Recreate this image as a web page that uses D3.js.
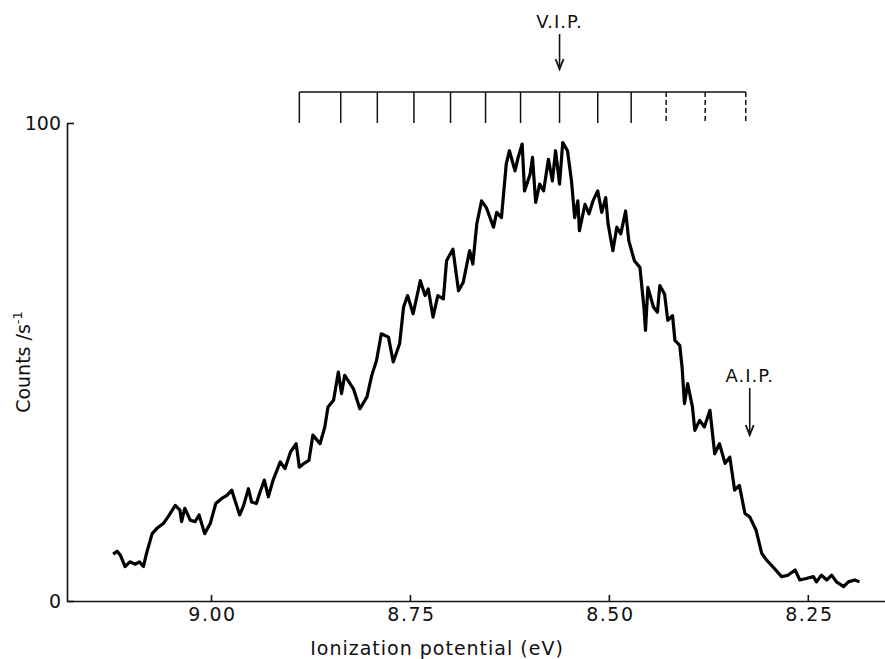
<!DOCTYPE html>
<html>
<head>
<meta charset="utf-8">
<script src="https://cdn.jsdelivr.net/npm/d3@7"></script>
<style>
  body { margin: 0; background: #fff; }
  svg { display: block; }
  text { font-family: "DejaVu Sans", sans-serif; fill: #111; }
</style>
</head>
<body>
<script>
// photoelectron band
const energy = [
  9.123, 9.118, 9.114, 9.108, 9.102, 9.095, 9.090, 9.085, 9.081, 9.074,
  9.068, 9.060, 9.054, 9.045, 9.039, 9.037, 9.033, 9.026, 9.020, 9.015,
  9.008, 9.001, 8.994, 8.987, 8.980, 8.974, 8.970, 8.964, 8.959, 8.953,
  8.949, 8.943, 8.939, 8.933, 8.928, 8.922, 8.913, 8.907, 8.900, 8.893,
  8.889, 8.883, 8.877, 8.872, 8.863, 8.857, 8.853, 8.846, 8.840, 8.836,
  8.832, 8.821, 8.813, 8.804, 8.798, 8.792, 8.786, 8.777, 8.771, 8.763,
  8.758, 8.753, 8.746, 8.737, 8.731, 8.727, 8.721, 8.715, 8.708, 8.704,
  8.696, 8.689, 8.683, 8.675, 8.671, 8.666, 8.660, 8.654, 8.645, 8.641,
  8.635, 8.632, 8.629, 8.625, 8.618, 8.614, 8.609, 8.606, 8.599, 8.596,
  8.592, 8.587, 8.582, 8.576, 8.571, 8.567, 8.562, 8.558, 8.552, 8.547,
  8.543, 8.539, 8.537, 8.530, 8.525, 8.520, 8.514, 8.509, 8.504, 8.501,
  8.495, 8.490, 8.485, 8.479, 8.475, 8.468, 8.461, 8.456, 8.454, 8.451,
  8.444, 8.439, 8.436, 8.430, 8.426, 8.420, 8.417, 8.411, 8.408, 8.405,
  8.401, 8.395, 8.392, 8.386, 8.380, 8.373, 8.367, 8.361, 8.354, 8.348,
  8.342, 8.336, 8.329, 8.323, 8.315, 8.308, 8.302, 8.292, 8.283, 8.275,
  8.266, 8.260, 8.252, 8.243, 8.239, 8.233, 8.226, 8.220, 8.214, 8.205,
  8.199, 8.191, 8.185
];
const counts = [
  9.8, 10.4, 9.6, 7.2, 8.2, 7.7, 8.2, 7.2, 10.0, 14.1,
  15.2, 16.2, 17.6, 20.0, 19.0, 16.6, 19.4, 16.9, 16.6, 18.0,
  14.1, 16.2, 20.4, 21.4, 22.1, 23.2, 21.1, 18.0, 20.0, 23.5,
  20.7, 20.4, 22.5, 25.3, 21.8, 25.3, 29.1, 27.7, 31.2, 32.9,
  28.0, 28.8, 29.4, 34.7, 32.9, 36.4, 40.6, 42.0, 47.9, 43.4,
  47.2, 44.4, 40.2, 42.7, 47.2, 50.3, 55.9, 55.2, 50.0, 53.8,
  61.5, 63.9, 60.1, 67.0, 63.9, 65.3, 59.4, 63.9, 63.2, 71.2,
  73.6, 64.9, 66.7, 73.3, 70.5, 78.9, 83.7, 82.3, 78.2, 81.3,
  80.2, 85.8, 91.4, 94.2, 90.0, 92.8, 95.6, 85.8, 89.3, 92.8,
  83.4, 87.2, 85.8, 92.4, 87.9, 94.2, 87.2, 95.9, 94.2, 87.9,
  80.2, 83.7, 77.5, 83.0, 81.0, 83.7, 85.8, 81.3, 84.4, 78.9,
  73.3, 78.2, 76.8, 81.6, 75.4, 71.2, 69.8, 61.5, 56.6, 65.6,
  61.5, 60.4, 66.0, 64.2, 58.7, 59.7, 54.5, 53.5, 48.9, 41.3,
  45.5, 40.6, 35.7, 37.8, 36.4, 39.9, 30.8, 32.9, 28.8, 30.1,
  23.2, 24.2, 18.3, 17.6, 14.8, 10.0, 8.6, 6.8, 5.1, 5.4,
  6.5, 4.4, 4.7, 5.1, 4.0, 5.4, 4.4, 5.4, 4.0, 3.0,
  4.0, 4.4, 4.0
];

// vibrational progression comb (eV), last three drawn dashed
const combEnergies = [8.889, 8.837, 8.791, 8.745, 8.699, 8.655, 8.611,
  8.562, 8.514, 8.472, 8.428, 8.379, 8.328];
const solidCombCount = 10;

const xTickValues = [9.0, 8.75, 8.5, 8.25];
const yTickValues = [0, 100];

const vipEnergy = 8.562;
const aipEnergy = 8.323;

const width = 885;
const height = 659;
const plotLeft = 67;
const plotBottom = 601;
const plotTop = 123;

const x = d3.scaleLinear().domain([9.181, 8.153]).range([plotLeft, width]);
const y = d3.scaleLinear().domain([0, 100]).range([plotBottom, plotTop]);

const svg = d3
  .select("body")
  .append("svg")
  .attr("width", width)
  .attr("height", height);

// axes
const xAxis = svg
  .append("g")
  .attr("transform", `translate(0,${plotBottom})`)
  .call(
    d3.axisBottom(x)
      .tickValues(xTickValues)
      .tickFormat(d3.format(".2f"))
      .tickSizeInner(-6)
      .tickSizeOuter(0)
      .tickPadding(7)
  );

const yAxis = svg
  .append("g")
  .attr("transform", `translate(${plotLeft},0)`)
  .call(
    d3.axisLeft(y)
      .tickValues(yTickValues)
      .tickFormat(d3.format("d"))
      .tickSizeInner(-7)
      .tickSizeOuter(0)
      .tickPadding(6)
  );

[xAxis, yAxis].forEach((g) => {
  g.attr("font-family", null).attr("font-size", 19);
  g.selectAll("path, line").attr("stroke", "#111").attr("stroke-width", 1.6);
  g.selectAll("text").attr("fill", "#111");
});
xAxis.selectAll("text").attr("letter-spacing", 1.5).attr("dx", 1);

// spectrum trace
const points = energy.map((e, i) => ({ e, c: counts[i] }));

const line = d3
  .line()
  .x((d) => x(d.e))
  .y((d) => y(d.c));

svg
  .append("path")
  .datum(points)
  .attr("d", line)
  .attr("fill", "none")
  .attr("stroke", "#000")
  .attr("stroke-width", 3.2)
  .attr("stroke-linejoin", "round");

// comb above the plot
const combTop = 92;
const comb = svg.append("g").attr("stroke", "#111").attr("stroke-width", 1.5);

comb
  .append("line")
  .attr("x1", x(combEnergies[0]))
  .attr("x2", x(combEnergies[combEnergies.length - 1]))
  .attr("y1", combTop)
  .attr("y2", combTop);

comb
  .selectAll("line.tooth")
  .data(combEnergies)
  .join("line")
  .attr("class", "tooth")
  .attr("x1", (d) => x(d))
  .attr("x2", (d) => x(d))
  .attr("y1", combTop)
  .attr("y2", plotTop)
  .attr("stroke-dasharray", (d, i) => (i < solidCombCount ? null : "5,3"));

// arrows with labels
function arrow(e, y1, y2, label) {
  const ax = x(e);
  const g = svg.append("g");
  g.append("line")
    .attr("x1", ax).attr("x2", ax)
    .attr("y1", y1).attr("y2", y2)
    .attr("stroke", "#111").attr("stroke-width", 1.6);
  g.append("path")
    .attr("d", `M${ax - 4},${y2 - 10}L${ax},${y2}L${ax + 4},${y2 - 10}`)
    .attr("fill", "none")
    .attr("stroke", "#111")
    .attr("stroke-width", 1.8);
  g.append("text")
    .attr("x", ax)
    .attr("y", y1 - 6)
    .attr("text-anchor", "middle")
    .attr("font-size", 18)
    .attr("letter-spacing", 1)
    .text(label);
}

arrow(vipEnergy, 34, 69, "V.I.P.");
arrow(aipEnergy, 388, 435, "A.I.P.");

// axis titles
svg
  .append("text")
  .attr("x", 437)
  .attr("y", 655)
  .attr("text-anchor", "middle")
  .attr("font-size", 19)
  .attr("letter-spacing", 1)
  .text("Ionization potential (eV)");

const yTitle = svg
  .append("text")
  .attr("transform", "translate(30,362) rotate(-90)")
  .attr("text-anchor", "middle")
  .attr("font-size", 19);
yTitle.append("tspan").text("Counts /s");
yTitle.append("tspan").attr("dy", -8).attr("font-size", 13).text("-1");
</script>
</body>
</html>
